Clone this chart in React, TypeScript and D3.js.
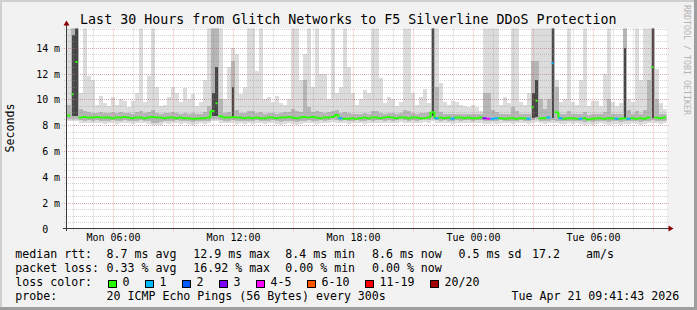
import React from 'react';
import * as d3 from 'd3';

// ---------- data ----------
const startTime = new Date(2026, 3, 20, 3, 41, 43);
const endTime = new Date(2026, 3, 21, 9, 41, 43);
const stepMinutes = 12;

// median round-trip time per step (ms)
const medianMs = [
  8.75, 10.4, 12.9, 8.6, 8.65, 8.6, 8.6, 8.65, 8.6, 8.6,
  8.6, 8.55, 8.6, 8.6, 8.65, 8.6, 8.55, 8.6, 8.6, 8.55,
  8.6, 8.65, 8.6, 8.6, 8.55, 8.6, 8.6, 8.55, 8.6, 8.55,
  8.55, 8.5, 8.5, 8.55, 8.55, 8.6, 9.1, 9.7, 8.7, 8.6,
  8.6, 8.65, 8.6, 8.6, 8.55, 8.6, 8.55, 8.6, 8.55, 8.55,
  8.6, 8.6, 8.55, 8.6, 8.6, 8.65, 8.6, 8.55, 8.6, 8.65,
  8.6, 8.65, 8.6, 8.55, 8.6, 8.6, 8.65, 8.8, 8.55, 8.5,
  8.5, 8.55, 8.5, 8.55, 8.6, 8.55, 8.6, 8.6, 8.55, 8.6,
  8.65, 8.6, 8.55, 8.6, 8.6, 8.55, 8.6, 8.6, 8.55, 8.55,
  8.6, 9.0, 8.55, 8.6, 8.55, 8.6, 8.5, 8.6, 8.6, 8.55,
  8.6, 8.55, 8.55, 8.6, 8.55, 8.5, 8.5, 8.55, 8.55, 8.5,
  8.55, 8.55, 8.5, 8.55, 8.55, 8.5, 9.4, 9.9, 8.55, 8.55,
  8.6, 12.8, 9.0, 8.55, 8.5, 8.55, 8.55, 8.5, 8.5, 8.55,
  8.45, 8.5, 8.55, 8.55, 8.5, 8.55, 8.55, 8.5, 8.5, 8.55,
  8.5, 8.55, 8.5, 8.55, 8.5, 8.6, 12.5, 8.6, 8.55, 8.6,
];

// lost pings (of 20) per step
const lostPings = [
  0, 0, 0, 0, 0, 0, 0, 0, 0, 0,
  0, 0, 0, 0, 0, 0, 0, 0, 0, 0,
  0, 0, 0, 0, 0, 0, 0, 0, 0, 0,
  0, 0, 0, 0, 0, 0, 0, 0, 0, 0,
  0, 0, 0, 0, 0, 0, 0, 0, 0, 0,
  0, 0, 0, 0, 0, 0, 0, 0, 0, 0,
  0, 0, 0, 0, 0, 0, 0, 0, 1, 0,
  0, 0, 0, 0, 0, 0, 0, 0, 0, 0,
  0, 0, 0, 0, 0, 0, 0, 0, 0, 0,
  0, 0, 1, 0, 0, 0, 1, 0, 0, 0,
  0, 0, 0, 0, 3, 4, 1, 1, 0, 0,
  0, 0, 0, 0, 0, 1, 0, 0, 0, 0,
  1, 1, 0, 1, 0, 0, 0, 0, 1, 0,
  0, 0, 0, 0, 0, 0, 0, 1, 0, 0,
  1, 0, 0, 0, 0, 0, 0, 0, 0, 0,
];

// slowest ping per step (ms); 16 = off the top of the graph
const pingMax = [
  16, 16, 16, 10.5, 16, 11.8, 11.5, 9.6, 10.3, 9.7,
  9.5, 10.2, 9.6, 10.0, 9.9, 9.4, 9.9, 10.5, 16, 9.8,
  11.8, 16, 11.0, 9.5, 9.6, 10.2, 11.0, 10.5, 9.8, 10.9,
  10.0, 10.4, 9.5, 9.8, 11.5, 16, 16, 16, 16, 10.0,
  12.5, 14.0, 13.5, 10.4, 11.0, 16, 16, 12.2, 16, 10.0,
  10.2, 9.8, 10.3, 9.7, 9.6, 10.0, 16, 16, 11.5, 13.5,
  16, 11.0, 16, 12.0, 12.0, 10.0, 16, 10.5, 11.0, 16,
  12.5, 10.5, 9.6, 10.0, 10.7, 10.5, 16, 16, 11.7, 9.7,
  10.2, 10.0, 9.5, 9.8, 16, 16, 10.5, 9.6, 10.2, 10.8,
  9.7, 16, 16, 11.3, 9.8, 9.6, 9.9, 9.8, 9.6, 9.5,
  9.4, 9.6, 9.4, 9.1, 16, 16, 16, 16, 9.6, 10.2,
  9.7, 16, 16, 9.8, 9.6, 10.5, 16, 16, 16, 16,
  16, 16, 11.5, 9.8, 10.0, 16, 9.8, 9.6, 11.5, 16,
  9.5, 9.9, 9.9, 9.5, 12.0, 16, 9.8, 9.5, 9.7, 16,
  10.0, 9.8, 16, 11.5, 16, 16, 16, 12.4, 9.7, 9.3,
];

// upper edge of the denser smoke per step (ms)
const pingHigh = [
  9.6, 16, 16, 9.3, 9.1, 9.0, 8.95, 8.95, 9.0, 8.95,
  8.95, 9.0, 8.95, 9.0, 8.95, 8.95, 8.9, 9.0, 9.1, 8.95,
  9.0, 9.2, 8.95, 8.9, 8.95, 8.95, 9.0, 8.95, 8.9, 8.95,
  8.9, 8.95, 8.9, 8.9, 9.0, 9.5, 16, 16, 10.0, 8.95,
  9.0, 13.0, 9.2, 8.95, 8.95, 9.1, 9.1, 8.95, 9.0, 8.9,
  8.95, 8.95, 8.9, 8.95, 9.0, 9.0, 9.3, 9.1, 9.0, 11.5,
  9.4, 9.0, 9.1, 9.0, 8.95, 9.0, 9.1, 9.2, 8.95, 9.0,
  8.95, 8.9, 8.9, 8.9, 8.95, 8.9, 9.1, 9.1, 8.95, 8.9,
  8.95, 8.95, 8.9, 8.95, 9.2, 9.1, 8.95, 8.9, 8.95, 8.95,
  9.0, 16, 11.0, 9.0, 8.9, 8.9, 8.85, 8.9, 8.9, 8.85,
  8.9, 8.85, 8.85, 8.9, 10.5, 10.5, 9.2, 9.0, 8.85, 8.9,
  8.85, 9.4, 9.1, 8.85, 8.85, 8.9, 13.0, 13.0, 10.0, 9.3,
  10.0, 16, 11.0, 8.9, 8.85, 9.1, 8.85, 8.85, 8.9, 9.0,
  8.8, 8.85, 8.9, 8.85, 9.0, 10.0, 8.85, 8.85, 8.85, 16,
  9.2, 8.85, 9.1, 8.9, 9.2, 11.5, 16, 10.0, 8.9, 8.9,
];

// upper edge of the darkest smoke per step (ms); 0 = none
const pingCore = [
  0, 15, 16, 0, 0, 0, 0, 0, 0, 0,
  0, 0, 0, 0, 0, 0, 0, 0, 0, 0,
  0, 0, 0, 0, 0, 0, 0, 0, 0, 0,
  0, 0, 0, 0, 0, 0, 10.5, 12.5, 0, 0,
  0, 11, 0, 0, 0, 0, 0, 0, 0, 0,
  0, 0, 0, 0, 0, 0, 0, 0, 0, 0,
  0, 0, 0, 0, 0, 0, 0, 0, 0, 0,
  0, 0, 0, 0, 0, 0, 0, 0, 0, 0,
  0, 0, 0, 0, 0, 0, 0, 0, 0, 0,
  0, 16, 0, 0, 0, 0, 0, 0, 0, 0,
  0, 0, 0, 0, 0, 0, 0, 0, 0, 0,
  0, 0, 0, 0, 0, 0, 10.5, 11.5, 0, 0,
  0, 16, 0, 0, 0, 0, 0, 0, 0, 0,
  0, 0, 0, 0, 0, 0, 0, 0, 0, 14,
  0, 0, 0, 0, 0, 0, 16, 0, 0, 0,
];

// fastest ping per step (ms)
const pingMin = [
  8.3, 8.3, 8.3, 8.2, 8.15, 8.2, 8.15, 8.2, 8.15, 8.1,
  8.15, 8.2, 8.1, 8.15, 8.2, 8.15, 8.1, 8.15, 8.2, 8.15,
  8.1, 8.0, 8.0, 8.05, 8.15, 8.1, 8.15, 8.2, 8.1, 8.15,
  8.1, 8.05, 8.1, 8.15, 8.1, 8.15, 8.3, 8.3, 8.2, 8.15,
  8.15, 8.2, 8.1, 8.15, 8.1, 8.15, 8.1, 8.2, 8.15, 8.1,
  8.15, 8.2, 8.1, 8.05, 8.1, 8.15, 8.1, 8.05, 8.1, 8.15,
  8.2, 8.15, 8.1, 8.2, 8.15, 8.2, 8.25, 8.2, 8.15, 8.2,
  8.1, 8.15, 8.2, 8.15, 8.1, 8.2, 8.15, 8.2, 8.2, 8.15,
  8.2, 8.15, 8.2, 8.25, 8.2, 8.15, 8.2, 8.15, 8.2, 8.25,
  8.2, 8.3, 8.2, 8.15, 8.2, 8.15, 8.1, 8.2, 8.15, 8.2,
  8.2, 8.15, 8.2, 8.2, 8.1, 8.1, 8.15, 8.1, 8.2, 8.15,
  8.15, 8.1, 8.15, 8.2, 8.15, 8.1, 8.2, 8.25, 8.15, 8.1,
  8.15, 8.2, 8.15, 8.1, 8.1, 8.15, 8.1, 8.15, 8.1, 8.05,
  8.1, 8.05, 8.1, 8.15, 8.1, 8.05, 8.1, 8.1, 8.05, 8.1,
  8.1, 8.15, 8.1, 8.05, 8.1, 8.15, 8.2, 8.15, 8.1, 8.15,
];

const yTickValues = [0, 2, 4, 6, 8, 10, 12, 14];
const titleText = 'Last 30 Hours from Glitch Networks to F5 Silverline DDoS Protection';
const rttStats = ['8.7 ms avg', '12.9 ms max', '8.4 ms min', '8.6 ms now', '0.5 ms sd', '17.2', 'am/s'];
const lossStats = ['0.33 % avg', '16.92 % max', '0.00 % min', '0.00 % now'];
const lossLabels = ['0', '1', '2', '3', '4-5', '6-10', '11-19', '20/20'];
const probeText = '20 ICMP Echo Pings (56 Bytes) every 300s';
const stampText = 'Tue Apr 21 09:41:43 2026';

// ---------- styles ----------
const lossColors = ['#26ff00', '#00b8ff', '#0059ff', '#7e00ff', '#ff00ff', '#ff5500', '#ff0000', '#a10000'];
const MONO = "'DejaVu Sans Mono', monospace";

function lossBucket(l: number) {
  if (l <= 3) return l;
  if (l <= 5) return 4;
  if (l <= 10) return 5;
  if (l <= 19) return 6;
  return 7;
}

export default function App() {
  const W = 697, H = 310;
  const x = d3.scaleTime().domain([startTime, endTime]).range([66.5, 666.5]);
  const y = d3.scaleLinear().domain([0, 15.5]).range([228.5, 28.5]);
  const stepX = (k: number) => x(new Date(startTime.getTime() + k * stepMinutes * 60000));

  const n = medianMs.length;
  const light: JSX.Element[] = [];
  const mid: JSX.Element[] = [];
  const core: JSX.Element[] = [];
  for (let k = 0; k < n; k++) {
    const x0 = stepX(k), x1 = stepX(k + 1);
    light.push(<rect key={k} x={x0} width={x1 - x0} y={y(pingMax[k])} height={y(pingMin[k]) - y(pingMax[k])} fill="#dcdcdc" />);
    mid.push(<rect key={k} x={x0} width={x1 - x0} y={y(pingHigh[k])} height={y(pingMin[k] + 0.2) - y(pingHigh[k])} fill="#b6b6b6" />);
    if (pingCore[k] > 0) {
      const li = k > 0 && pingCore[k - 1] > 0 ? 0 : 1;
      const ri = k + 1 < n && pingCore[k + 1] > 0 ? 0 : 1;
      core.push(<rect key={k} x={x0 + li} width={x1 - x0 - li - ri} y={y(pingCore[k])} height={y(pingMin[k] + 0.4) - y(pingCore[k])} fill="#464646" />);
    }
  }

  // median: one horizontal dash per step, joined to the next when the step is small
  const medianMarks: JSX.Element[] = [];
  for (let k = 0; k < n; k++) {
    const c = lossColors[lossBucket(lostPings[k])];
    const x0 = stepX(k), x1 = stepX(k + 1);
    const yk = y(medianMs[k]);
    const spike = medianMs[k] > 9.2;
    const seg = spike ? [[x0 + 1, yk], [x1 - 1, yk]] : [[x0, yk], [x1, yk]];
    medianMarks.push(<path key={'m' + k} d={d3.line()(seg as [number, number][]) || ''} stroke={c} strokeWidth={2} fill="none" />);
    if (k + 1 < n && !spike && medianMs[k + 1] <= 9.2) {
      const y2 = y(medianMs[k + 1]);
      if (Math.abs(y2 - yk) > 0.1) {
        medianMarks.push(<path key={'c' + k} d={d3.line()([[x1, yk], [x1, y2]]) || ''} stroke={c} strokeWidth={2} fill="none" />);
      }
    }
  }

  const hours = d3.timeHour.range(startTime, endTime);
  const minorH = d3.range(0.5, 15.51, 0.5);

  // legend box layout
  let cursor = 108.3;
  const lossLegend = lossLabels.map((lab, i) => {
    const bx = cursor;
    cursor += 30 + 7 * lab.length;
    return (
      <g key={i}>
        <rect x={Math.round(bx) + 0.5} y={280.5} width={8} height={7} fill={lossColors[i]} stroke="#000" strokeWidth={1} />
        <text x={bx + 14.3} y={285.5}>{lab}</text>
      </g>
    );
  });

  const rttX = [106.6, 193.3, 285.3, 372, 458.6, 532, 586];
  const lossX = [106.6, 193.3, 285.3, 372];

  return (
    <svg width={W} height={H} style={{ position: 'fixed', left: 0, top: 0, display: 'block' }} fontFamily={MONO}>
      <defs>
        <clipPath id="plot">
          <rect x={66.5} y={28.5} width={600} height={200} />
        </clipPath>
      </defs>
      <rect x={0} y={0} width={W} height={H} fill="#f2f2f2" />
      {/* 3D border */}
      <rect x={0} y={0} width={W} height={2} fill="#cfcfcf" />
      <rect x={0} y={0} width={2} height={H} fill="#cfcfcf" />
      <rect x={0} y={H - 3} width={W} height={3} fill="#9e9e9e" />
      <rect x={W - 3} y={0} width={3} height={H} fill="#9e9e9e" />

      <rect x={66.5} y={28.5} width={600} height={200} fill="#ffffff" />

      <g clipPath="url(#plot)" shapeRendering="crispEdges">
        {light}
        {mid}
        {core}
      </g>

      {/* grid */}
      <g strokeDasharray="1,1" strokeWidth={1}>
        {minorH.map(v => (
          <line key={'h' + v} x1={64} x2={668.5} y1={Math.round(y(v)) + 0.5} y2={Math.round(y(v)) + 0.5} stroke="rgba(143,143,143,0.38)" />
        ))}
        {yTickValues.filter(v => v > 0).map(v => (
          <line key={'H' + v} x1={62} x2={670} y1={Math.round(y(v)) + 0.5} y2={Math.round(y(v)) + 0.5} stroke="rgba(200,80,80,0.3)" />
        ))}
        {hours.filter(h => h.getHours() % 3 !== 0).map(h => (
          <line key={'v' + +h} x1={Math.round(x(h)) + 0.5} x2={Math.round(x(h)) + 0.5} y1={28.5} y2={231} stroke="rgba(143,143,143,0.38)" />
        ))}
        {hours.filter(h => h.getHours() % 3 === 0).map(h => (
          <line key={'V' + +h} x1={Math.round(x(h)) + 0.5} x2={Math.round(x(h)) + 0.5} y1={28.5} y2={232} stroke="rgba(235,90,90,0.45)" />
        ))}
      </g>

      <g clipPath="url(#plot)">{medianMarks}</g>

      {/* axes */}
      <line x1={66.5} x2={66.5} y1={231} y2={24} stroke="#3a3a3a" strokeWidth={1} />
      <polygon points="63.5,25.5 69.5,25.5 66.5,20.5" fill="#8b0000" />
      <line x1={63} x2={669} y1={228.5} y2={228.5} stroke="#3a3a3a" strokeWidth={1} />
      <polygon points="668.5,225.5 668.5,231.5 673.5,228.5" fill="#8b0000" />

      {/* y labels */}
      <g fontSize={10} fill="#000">
        {yTickValues.map(v => (
          <g key={v}>
            <text x={48.3} y={Math.round(y(v)) + 4} textAnchor="end">{d3.format('d')(v)}</text>
            {v > 0 && <text x={53.9} y={Math.round(y(v)) + 4}>m</text>}
          </g>
        ))}
      </g>
      {/* x labels */}
      <g fontSize={10} fill="#000" textAnchor="middle">
        {hours.filter(h => h.getHours() % 6 === 0).map(h => (
          <text key={+h} x={Math.round(x(h)) + 0.5} y={241}>{d3.timeFormat('%a %H:%M')(h)}</text>
        ))}
      </g>

      <text x={348.3} y={23.5} fontSize={13.3} textAnchor="middle" fill="#000">{titleText}</text>
      <text transform="translate(14.3,128) rotate(-90)" fontSize={11.6} textAnchor="middle" fill="#000">Seconds</text>
      <text transform="translate(684,5) rotate(90)" fontSize={8.3} fill="#b4b4b4">RRDTOOL / TOBI OETIKER</text>

      {/* legend */}
      <g fontSize={11.6} fill="#000">
        <text x={15.3} y={257.5}>median rtt:</text>
        {rttStats.map((s, i) => <text key={i} x={rttX[i]} y={257.5}>{s}</text>)}
        <text x={15.3} y={271.5}>packet loss:</text>
        {lossStats.map((s, i) => <text key={i} x={lossX[i]} y={271.5}>{s}</text>)}
        <text x={15.3} y={285.5}>loss color:</text>
        {lossLegend}
        <text x={15.3} y={299.5}>probe:</text>
        <text x={106.6} y={299.5}>{probeText}</text>
        <text x={511.6} y={299.5}>{stampText}</text>
      </g>
    </svg>
  );
}
